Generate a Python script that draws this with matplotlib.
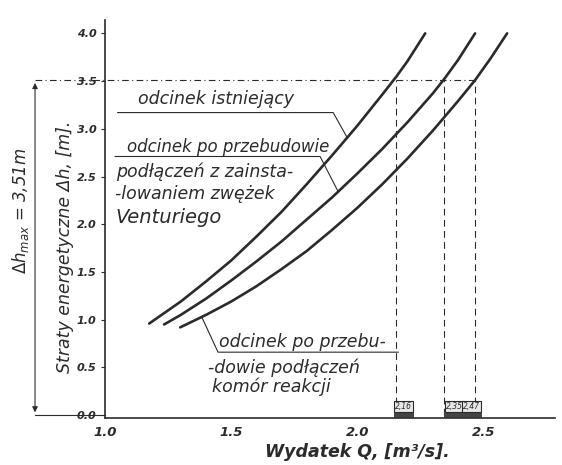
import matplotlib.pyplot as plt
import numpy as np

# curves: discharge Q [m3/s] vs head loss dh [m]
q_existing = [1.175, 1.30, 1.40, 1.50, 1.60, 1.70, 1.80, 1.90, 2.00, 2.10, 2.155, 2.20, 2.27]
h_existing = [0.96, 1.19, 1.40, 1.62, 1.87, 2.13, 2.42, 2.72, 3.03, 3.36, 3.545, 3.71, 4.00]

q_venturi = [1.234, 1.30, 1.40, 1.50, 1.60, 1.70, 1.80, 1.90, 2.00, 2.10, 2.20, 2.30, 2.345, 2.40, 2.468]
h_venturi = [0.95, 1.05, 1.22, 1.41, 1.61, 1.82, 2.05, 2.28, 2.53, 2.79, 3.07, 3.37, 3.52, 3.72, 4.00]

q_reactor = [1.298, 1.40, 1.50, 1.60, 1.70, 1.80, 1.90, 2.00, 2.10, 2.20, 2.30, 2.40, 2.468, 2.53, 2.595]
h_reactor = [0.92, 1.05, 1.19, 1.35, 1.53, 1.72, 1.94, 2.17, 2.42, 2.69, 2.98, 3.29, 3.51, 3.74, 4.00]

h_max = 3.51
q_at_hmax = [2.155, 2.345, 2.468]
q_box_labels = ['2,16', '2,35', '2,47']

xticks = [1.0, 1.5, 2.0, 2.5]
yticks = [0.0, 0.5, 1.0, 1.5, 2.0, 2.5, 3.0, 3.5, 4.0]

ink = '#2b2b2b'
fig = plt.figure(figsize=(5.62, 4.65), dpi=100)
ax = fig.add_axes([0.187, 0.101, 0.801, 0.856])
ax.set_xlim(1.0, 2.786)
ax.set_ylim(-0.03, 4.14)

for q, h in [(q_existing, h_existing), (q_venturi, h_venturi), (q_reactor, h_reactor)]:
    ax.plot(q, h, color=ink, lw=1.9, solid_capstyle='round')

for s in ['top', 'right']:
    ax.spines[s].set_visible(False)
for s in ['left', 'bottom']:
    ax.spines[s].set_color(ink)
    ax.spines[s].set_linewidth(1.2)

ax.set_xticks(xticks)
ax.set_xticklabels(['%.1f' % v for v in xticks], style='italic', weight='bold', fontsize=9.5, color=ink)
ax.set_yticks(yticks)
ax.set_yticklabels(['%.1f' % v for v in yticks], style='italic', weight='bold', fontsize=8, color=ink)
ax.tick_params(axis='x', length=0, pad=6)
ax.tick_params(axis='y', length=3, color=ink, pad=3)

ax.set_xlabel('Wydatek Q, [m³/s].', style='italic', weight='bold', fontsize=12.5, color=ink)
ax.xaxis.label.set_va('center')
ax.xaxis.set_label_coords(0.56, -0.085)
ax.set_ylabel('Straty energetyczne Δh, [m].', style='italic', fontsize=12.5, color=ink)
ax.yaxis.set_label_coords(-0.07, 0.43)

# dh_max level and verticals down to the Q axis
ax.plot([0.722, q_at_hmax[-1]], [h_max, h_max], color=ink, lw=0.8, ls=(0, (6, 3, 1, 3)), clip_on=False)
for q in q_at_hmax:
    ax.plot([q, q], [0.0, h_max], color=ink, lw=0.8, ls=(0, (6, 4)))
ax.plot([0.722, 1.0], [0.0, 0.0], color=ink, lw=0.8, clip_on=False)
ax.annotate('', xy=(0.722, 0.0), xytext=(0.722, h_max), xycoords='data',
            arrowprops=dict(arrowstyle='<|-|>', color=ink, lw=0.8, mutation_scale=8),
            annotation_clip=False)
ax.text(0.663, 2.14, r'$\Delta h_{max}$ = 3,51m', rotation=90, style='italic',
        fontsize=12, color=ink, ha='center', va='center', clip_on=False)

# boxed values on the Q axis
box_pos = [2.185, 2.385, 2.455]
for x, lab in zip(box_pos, q_box_labels):
    ax.plot([x - 0.04, x + 0.04], [0.0, 0.0], color='#444444', lw=4, solid_capstyle='butt')
    ax.text(x, 0.09, lab, fontsize=5.5, style='italic', color=ink, ha='center', va='center',
            bbox=dict(boxstyle='square,pad=0.15', fc='#e8e8e8', ec=ink, lw=0.8))

# labels with leader lines
tk = dict(style='italic', color=ink, fontsize=12.5)
ax.text(1.131, 3.26, 'odcinek istniejący', **tk)
ax.plot([1.05, 1.905, 1.96], [3.17, 3.17, 2.91], color=ink, lw=0.8)

ax.text(1.085, 2.76, 'odcinek po przebudowie', style='italic', color=ink, fontsize=12)
ax.plot([1.04, 1.853, 1.925], [2.71, 2.71, 2.34], color=ink, lw=0.8)
ax.text(1.045, 2.50, 'podłączeń z zainsta-', **tk)
ax.text(1.04, 2.26, '-lowaniem zwężek', **tk)
ax.text(1.04, 2.01, 'Venturiego', style='italic', color=ink, fontsize=14)

ax.plot([1.385, 1.448, 2.163], [1.02, 0.66, 0.66], color=ink, lw=0.8)
ax.text(1.452, 0.71, 'odcinek po przebu-', **tk)
ax.text(1.41, 0.44, '-dowie podłączeń', **tk)
ax.text(1.425, 0.24, 'komór reakcji', **tk)

fig.savefig('out.png', dpi=100)
